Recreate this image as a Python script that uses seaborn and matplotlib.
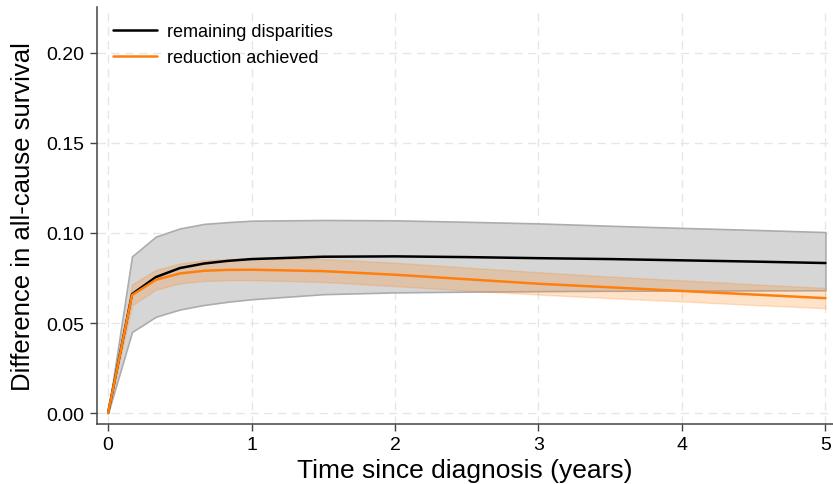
import matplotlib
matplotlib.use("Agg")
import matplotlib.pyplot as plt
import seaborn as sns
import numpy as np
import pandas as pd

# time since diagnosis (years)
years = [0, 1/6, 1/3, 1/2, 2/3, 5/6, 1, 1.5, 2, 2.5, 3, 3.5, 4, 4.5, 5]

# remaining disparities + CI
remaining = [0, 0.0660, 0.0755, 0.0805, 0.0830, 0.0845, 0.0855, 0.0868, 0.0870,
             0.0866, 0.0860, 0.0855, 0.0848, 0.0841, 0.0833]
remaining_hi = [0, 0.0870, 0.0980, 0.1025, 0.1050, 0.1060, 0.1068, 0.1072, 0.1070,
                0.1062, 0.1053, 0.1040, 0.1028, 0.1017, 0.1005]
remaining_lo = [0, 0.0450, 0.0535, 0.0575, 0.0600, 0.0618, 0.0632, 0.0660, 0.0670,
                0.0674, 0.0677, 0.0679, 0.0680, 0.0681, 0.0682]

# reduction achieved + CI
reduction = [0, 0.0655, 0.0740, 0.0775, 0.0790, 0.0795, 0.0796, 0.0788, 0.0768,
             0.0743, 0.0718, 0.0698, 0.0678, 0.0658, 0.0638]
reduction_hi = [0, 0.0715, 0.0795, 0.0830, 0.0848, 0.0855, 0.0858, 0.0855, 0.0835,
                0.0808, 0.0782, 0.0758, 0.0737, 0.0715, 0.0695]
reduction_lo = [0, 0.0598, 0.0685, 0.0720, 0.0733, 0.0738, 0.0738, 0.0728, 0.0705,
                0.0680, 0.0658, 0.0638, 0.0620, 0.0600, 0.0582]

df = pd.DataFrame({
    "t": years * 2,
    "diff": remaining + reduction,
    "group": ["remaining disparities"] * len(years) + ["reduction achieved"] * len(years),
})

sns.set_style("white")
plt.rcParams["font.family"] = ["Liberation Sans", "DejaVu Sans"]
plt.rcParams["text.color"] = "black"
plt.rcParams["axes.labelcolor"] = "black"
plt.rcParams["xtick.color"] = "black"
plt.rcParams["ytick.color"] = "black"

fig = plt.figure(figsize=(8.33, 4.85), dpi=100)
ax = fig.add_axes([0.1165, 0.124, 0.883, 0.86])

# bands
ax.fill_between(years, remaining_lo, remaining_hi, facecolor="#d6d6d6",
                edgecolor="#acacac", linewidth=1.2, zorder=1)
ax.fill_between(years, reduction_lo, reduction_hi, facecolor="#ff7f0e", alpha=0.22,
                edgecolor="#ff7f0e", linewidth=1.0, zorder=2)

sns.lineplot(data=df, x="t", y="diff", hue="group",
             palette={"remaining disparities": "black", "reduction achieved": "#ff7f0e"},
             linewidth=1.8, ax=ax, zorder=3)

ax.set_xlim(-0.077, 5.05)
ax.set_ylim(-0.006, 0.2256)
ax.set_xticks([0, 1, 2, 3, 4, 5])
ax.set_yticks([0, 0.05, 0.10, 0.15, 0.20])
ax.set_yticklabels(["0.00", "0.05", "0.10", "0.15", "0.20"])
ax.tick_params(axis="both", labelsize=14, length=5, width=1, color="#444444",
               labelcolor="black", direction="out", left=True, bottom=True, pad=4)
ax.grid(True, linestyle=(0, (6, 4)), color="#e6e6e6", linewidth=1)
ax.set_axisbelow(True)
for s in ["top", "right"]:
    ax.spines[s].set_visible(False)
for s in ["left", "bottom"]:
    ax.spines[s].set_color("#444444")
    ax.spines[s].set_linewidth(1.1)

ax.set_xlabel("Time since diagnosis (years)", fontsize=19, labelpad=3)
ax.set_ylabel("Difference in all-cause survival", fontsize=18.5, labelpad=8)

leg = ax.legend(loc="upper left", frameon=False, fontsize=13, handlelength=2.4,
                borderaxespad=0.5, labelspacing=0.5, handletextpad=0.6)

fig.savefig("out.png", dpi=100)
